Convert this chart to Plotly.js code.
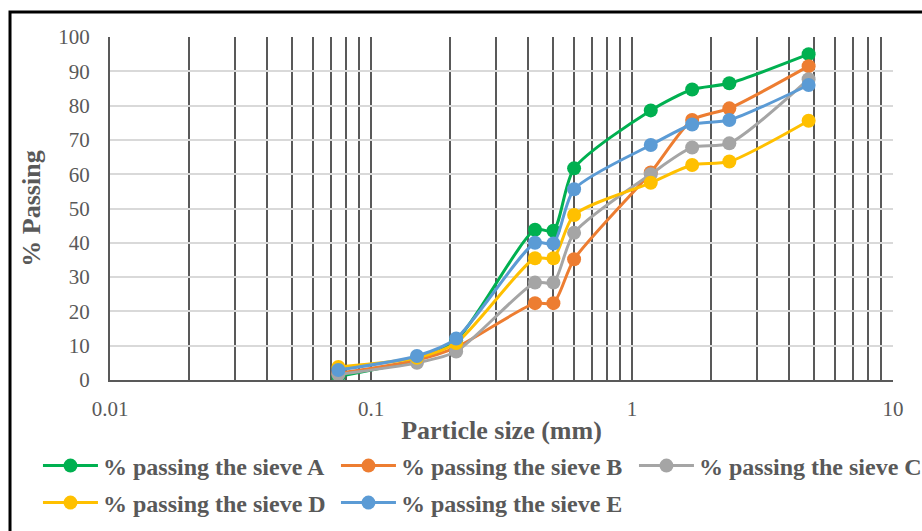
<!DOCTYPE html>
<html>
<head>
<meta charset="utf-8">
<script src="https://cdn.plot.ly/plotly-3.0.1.min.js"></script>
<style>
  html, body { margin: 0; padding: 0; background: #ffffff; overflow: hidden; }
  #chart { width: 922px; height: 531px; }
</style>
</head>
<body>
<div id="chart"></div>
<script>
// Sieve sizes (mm)
const particleSize = [0.075, 0.15, 0.212, 0.425, 0.5, 0.6, 1.18, 1.7, 2.36, 4.75];

// % passing for each sieve series
const passingA = [1.0, 6.0, 11.5, 43.8, 43.5, 61.7, 78.6, 84.7, 86.5, 95.0];
const passingB = [2.0, 5.8, 9.5, 22.4, 22.4, 35.2, 60.5, 75.8, 79.2, 91.5];
const passingC = [1.6, 5.0, 8.3, 28.4, 28.4, 42.9, 60.0, 67.8, 69.0, 87.7];
const passingD = [3.8, 6.5, 10.8, 35.5, 35.5, 48.1, 57.5, 62.7, 63.7, 75.6];
const passingE = [2.9, 7.0, 12.1, 40.0, 39.8, 55.6, 68.5, 74.5, 75.8, 86.0];

const seriesNames = [
  '% passing the sieve A',
  '% passing the sieve B',
  '% passing the sieve C',
  '% passing the sieve D',
  '% passing the sieve E'
];

// Axis ticks
const xTickVals = [0.01, 0.1, 1, 10];
const xTickText = ['0.01', '0.1', '1', '10'];
const yTickVals = [0, 10, 20, 30, 40, 50, 60, 70, 80, 90, 100];

const seriesValues = [passingA, passingB, passingC, passingD, passingE];
const seriesColors = ['#00B050', '#ED7D31', '#A5A5A5', '#FFC000', '#5B9BD5'];
const seriesLegend = ['legend', 'legend', 'legend', 'legend2', 'legend2'];

const FONT = 'Liberation Serif, Times New Roman, serif';
const TXT = '#595959';
const DARK = '#595959';
const LIGHT = '#d9d9d9';

const traces = seriesValues.map((vals, i) => ({
  type: 'scatter',
  mode: 'lines+markers',
  x: particleSize,
  y: vals,
  name: seriesNames[i],
  legend: seriesLegend[i],
  line: { color: seriesColors[i], width: 3, shape: 'spline', smoothing: 0.7 },
  marker: { color: seriesColors[i], size: 14, symbol: 'circle' },
  hoverinfo: 'x+y+name'
}));

const legendCommon = {
  orientation: 'h',
  xanchor: 'left',
  yanchor: 'middle',
  x: -0.092,
  entrywidth: 228,
  itemwidth: 55,
  tracegroupgap: 0,
  bgcolor: 'rgba(0,0,0,0)',
  font: { family: FONT, size: 24, color: TXT, weight: 700 }
};

const layout = {
  width: 922,
  height: 531,
  margin: { l: 110, r: 29, t: 37, b: 151, autoexpand: false },
  paper_bgcolor: '#ffffff',
  plot_bgcolor: '#ffffff',
  showlegend: true,
  xaxis: {
    type: 'log',
    range: [-2, 1],
    tickmode: 'array',
    tickvals: xTickVals,
    ticktext: xTickText,
    ticks: '',
    showgrid: true,
    gridcolor: DARK,
    gridwidth: 2,
    minor: { dtick: 'D1', showgrid: true, gridcolor: DARK, gridwidth: 2, ticks: '' },
    showline: true,
    linecolor: DARK,
    linewidth: 2,
    zeroline: false,
    ticklabelstandoff: 9,
    tickfont: { family: FONT, size: 21, color: TXT },
    title: {
      text: 'Particle size (mm)',
      font: { family: FONT, size: 26, color: TXT, weight: 700 },
      standoff: 1
    }
  },
  yaxis: {
    range: [0, 100],
    tickmode: 'array',
    tickvals: yTickVals,
    ticks: '',
    showgrid: true,
    gridcolor: LIGHT,
    gridwidth: 2,
    showline: true,
    linecolor: DARK,
    linewidth: 2,
    zeroline: false,
    ticklabelstandoff: 14,
    tickfont: { family: FONT, size: 21, color: TXT },
    title: {
      text: '% Passing',
      font: { family: FONT, size: 26, color: TXT, weight: 700 },
      standoff: 10
    }
  },
  legend: Object.assign({}, legendCommon, { y: -0.2507 }),
  legend2: Object.assign({}, legendCommon, { y: -0.3586 }),
  shapes: [
    // major gridline at 1 is light grey in the reference
    { type: 'line', xref: 'x', yref: 'paper', x0: 1, x1: 1, y0: 0, y1: 1,
      line: { color: LIGHT, width: 2 }, layer: 'below' },
    // outer frame
    { type: 'rect', xref: 'paper', yref: 'paper', x0: -0.1277, x1: 1.5, y0: -1, y1: 1.0729,
      line: { color: '#000000', width: 3 }, fillcolor: 'rgba(0,0,0,0)', layer: 'above' }
  ]
};

Plotly.newPlot('chart', traces, layout, { displayModeBar: false, responsive: false });
</script>
</body>
</html>
